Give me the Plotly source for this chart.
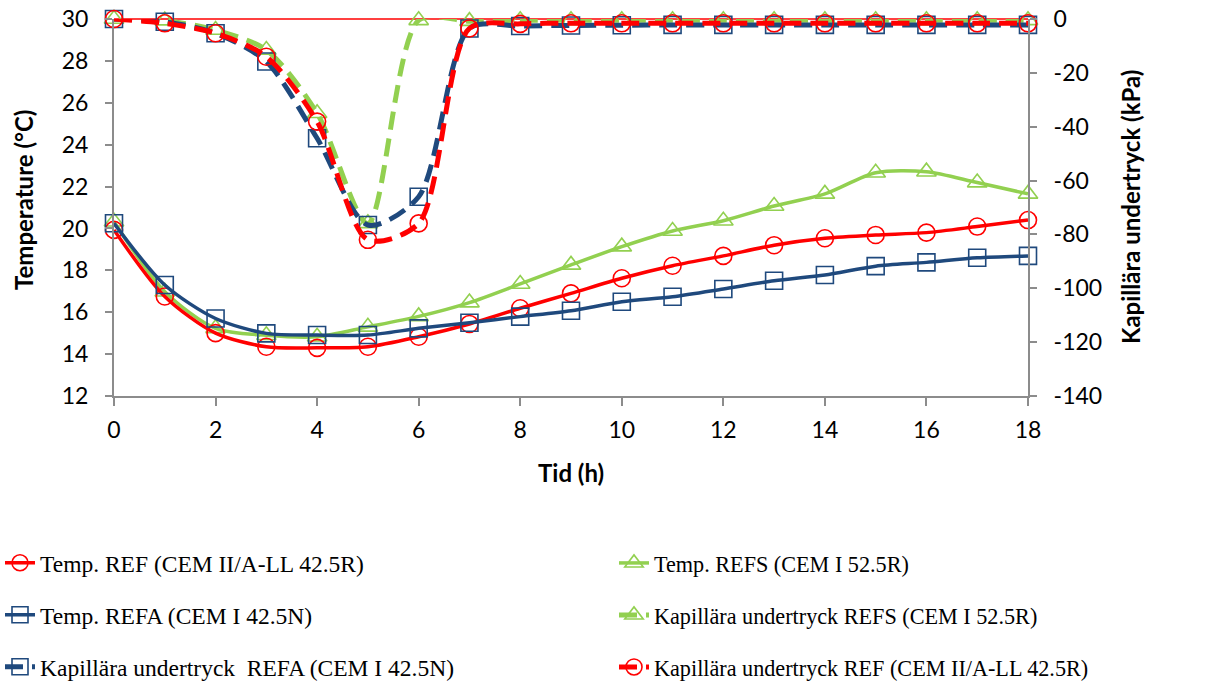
import plotly.graph_objects as go

hours = list(range(19))

temp_ref = [19.93, 16.75, 15.0, 14.35, 14.3, 14.35, 14.83, 15.44, 16.19, 16.9,
            17.62, 18.22, 18.69, 19.2, 19.53, 19.69, 19.8, 20.09, 20.4]
temp_refs = [20.32, 16.98, 15.23, 14.9, 14.83, 15.3, 15.8, 16.46, 17.35, 18.26,
             19.13, 19.88, 20.37, 21.07, 21.65, 22.66, 22.71, 22.19, 21.65]
temp_refa = [20.25, 17.3, 15.7, 14.99, 14.91, 14.91, 15.23, 15.5, 15.79, 16.07,
             16.5, 16.74, 17.11, 17.5, 17.78, 18.2, 18.38, 18.6, 18.69]

kap_refs = [0, -0.6, -4.1, -11.5, -35.0, -75.9, -0.5, -0.8, -0.5, -0.5,
            -0.5, -0.5, -0.5, -0.5, -0.5, -0.5, -0.5, -0.5, -0.5]
kap_refa = [0, -1.0, -5.3, -15.8, -44.3, -76.5, -66.0, -3.5, -2.6, -2.4,
            -2.3, -2.2, -2.2, -2.2, -2.2, -2.2, -2.2, -2.2, -2.2]
kap_ref = [0, -1.6, -5.3, -14.0, -38.1, -82.0, -75.9, -3.5, -1.8, -1.6,
           -1.6, -1.6, -1.6, -1.6, -1.6, -1.6, -1.6, -1.6, -1.6]

names = [
    "Temp. REF (CEM II/A-LL 42.5R)",
    "Temp. REFS (CEM I 52.5R)",
    "Temp. REFA (CEM I 42.5N)",
    "Kapillära undertryck REFS (CEM I 52.5R)",
    "Kapillära undertryck  REFA (CEM I 42.5N)",
    "Kapillära undertryck REF (CEM II/A-LL 42.5R)",
]
x_title = "Tid (h)"
y_title = "Temperature (°C)"
y2_title = "Kapillära undertryck (kPa)"

RED = "#FF0000"
GREEN = "#92D050"
BLUE = "#1F497D"
DASH = "18px,9px"

fig = go.Figure()

def add(y, name, color, symbol, dashed, axis, legend):
    fig.add_trace(go.Scatter(
        x=hours, y=y, name=name.replace("  ", "\u00a0 "), yaxis=axis, legend=legend,
        mode="lines+markers", cliponaxis=False,
        line=dict(color=color, width=5 if dashed else 3.5,
                  dash=DASH if dashed else "solid", shape="spline", smoothing=0.8),
        marker=dict(symbol=symbol, size=17, color=color,
                    line=dict(color=color, width=1.6)),
    ))

# dashed (right axis) drawn first, behind temperature curves
add(kap_refs, names[3], GREEN, "triangle-up-open", True, "y2", "legend4")
add(kap_refa, names[4], BLUE, "square-open", True, "y2", "legend5")
add(kap_ref, names[5], RED, "circle-open", True, "y2", "legend6")
add(temp_refs, names[1], GREEN, "triangle-up-open", False, "y", "legend2")
add(temp_ref, names[0], RED, "circle-open", False, "y", "legend")
add(temp_refa, names[2], BLUE, "square-open", False, "y", "legend3")

AX = "#8C8C8C"
FONT = "Lato, Carlito, Liberation Sans"
tickfont = dict(family=FONT, size=23, color="black")
titlefont = dict(family=FONT, size=24, color="black", weight="bold")

fig.add_shape(type="line", xref="paper", yref="paper", x0=0, x1=1, y0=1, y1=1,
              line=dict(color=RED, width=1.5), layer="below")

W, H = 1208, 688
L, R, T, B = 114, 180, 19, 292
PW, PH = W - L - R, H - T - B

def leg(xpx, ypx, size):
    return dict(orientation="v", xref="container", yref="container",
                x=xpx / W, y=1 - ypx / H, xanchor="left", yanchor="middle",
                font=dict(family="Liberation Serif, Times New Roman", size=size, color="black"),
                bgcolor="rgba(0,0,0,0)", itemwidth=30, borderwidth=0)

col1, col2 = 0, 614
rows = [563, 615, 667]

fig.add_annotation(text=y_title, xref="paper", yref="paper",
                   x=(23 - L) / PW, y=(H - B - 200) / PH, textangle=-90,
                   showarrow=False, font=titlefont, xanchor="center", yanchor="middle")
fig.add_annotation(text=y2_title, xref="paper", yref="paper",
                   x=(1130 - L) / PW, y=(H - B - 207) / PH, textangle=-90,
                   showarrow=False, font=titlefont, xanchor="center", yanchor="middle")
fig.add_annotation(text=x_title, xref="paper", yref="paper",
                   x=(571 - L) / PW, y=(H - B - 472) / PH,
                   showarrow=False, font=titlefont, xanchor="center", yanchor="middle")

fig.update_layout(
    width=W, height=H,
    margin=dict(l=L, r=R, t=T, b=B, autoexpand=False),
    paper_bgcolor="white", plot_bgcolor="white",
    showlegend=True,
    legend=leg(col1, rows[0], 23.5),
    legend2=leg(col2, rows[0], 22.2),
    legend3=leg(col1, rows[1], 23.5),
    legend4=leg(col2, rows[1], 22.2),
    legend5=leg(col1, rows[2], 23.5),
    legend6=leg(col2, rows[2], 22.2),
    xaxis=dict(range=[0, 18], tickvals=list(range(0, 19, 2)), showgrid=False, zeroline=False,
               showline=True, linecolor=AX, linewidth=2, ticks="outside", tickcolor=AX,
               ticklen=8, tickwidth=2, tickfont=tickfont, ticklabelstandoff=4),
    yaxis=dict(range=[12, 30], tickvals=list(range(12, 31, 2)), showgrid=False, zeroline=False,
               showline=True, linecolor=AX, linewidth=2, ticks="outside", tickcolor=AX,
               ticklen=7, tickwidth=2, tickfont=tickfont, ticklabelstandoff=12),
    yaxis2=dict(range=[-140, 0], overlaying="y", side="right",
                tickvals=list(range(-140, 1, 20)),
                ticktext=[str(v) for v in range(-140, 1, 20)],
                showgrid=False, zeroline=False,
                showline=True, linecolor=AX, linewidth=2, ticks="outside", tickcolor=AX,
                ticklen=7, tickwidth=2, tickfont=tickfont, ticklabelstandoff=12),
)

fig.write_html("out.html")
